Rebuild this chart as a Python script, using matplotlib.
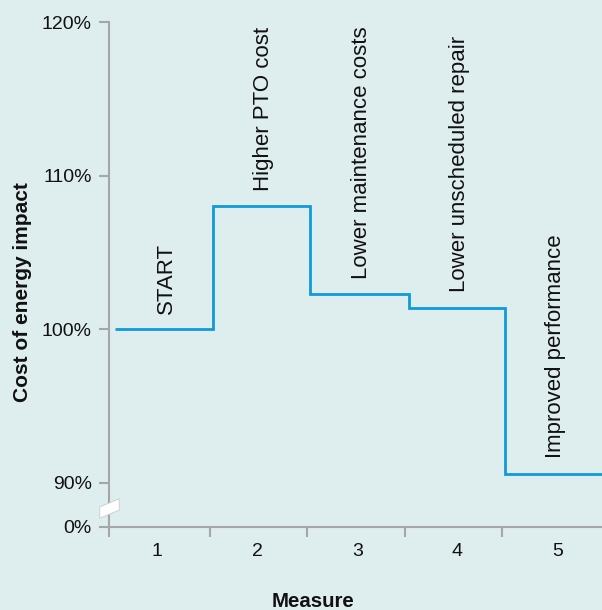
import matplotlib
matplotlib.use("Agg")
import matplotlib.pyplot as plt
from matplotlib.path import Path
import numpy as np

plt.rcParams['font.family'] = ['Liberation Sans', 'DejaVu Sans']

# data
measures = [1, 2, 3, 4, 5]
step_labels = ["START", "Higher PTO cost", "Lower maintenance costs",
               "Lower unscheduled repair", "Improved performance"]
impact = [100.0, 108.0, 102.3, 101.4, 90.6]          # cost of energy impact, %
step_edges = [0.58, 1.565, 2.53, 3.515, 4.475, 5.44]  # where each step begins/ends
y_ticks = [0, 90, 100, 110, 120]

bg = '#deeded'
blue = '#0f9ad8'
grey = '#a3a7a7'

# broken y axis: 0..90 squeezed into a short stub under 90
BREAK_LO = 87.14
def fwd(y):
    y = np.asarray(y, dtype=float)
    return np.where(y >= 90, y, BREAK_LO + y * (90 - BREAK_LO) / 90)

def inv(y):
    y = np.asarray(y, dtype=float)
    return np.where(y >= 90, y, (y - BREAK_LO) * 90 / (90 - BREAK_LO))

fig = plt.figure(figsize=(6.02, 6.10), dpi=100, facecolor=bg)
ax = fig.add_axes([0.1806, 0.1366, 0.8194, 0.8273], facecolor=bg)

ax.set_yscale('function', functions=(fwd, inv))
ax.set_ylim(0, 120)
ax.set_xlim(0.521, 5.442)

ax.stairs(impact, step_edges, color=blue, linewidth=2.0, baseline=None)

# step annotations, rotated, centred on each step
for i, lab in enumerate(step_labels):
    xc = (step_edges[i] + step_edges[i + 1]) / 2
    ax.annotate(lab, (xc, impact[i]), xytext=(1.5, 11), textcoords='offset points',
                rotation=90, ha='center', va='bottom', fontsize=16, color='#111111')

# axes styling
for s in ['top', 'right']:
    ax.spines[s].set_visible(False)
for s in ['left', 'bottom']:
    ax.spines[s].set_color(grey)
    ax.spines[s].set_linewidth(1.5)

ax.set_yticks(y_ticks)
ax.set_yticklabels([f"{v}%" for v in y_ticks])
ax.tick_params(axis='y', length=7.2, width=1.5, color=grey, pad=5, labelsize=14,
               labelcolor='#111111')

ax.set_xticks(measures)
ax.set_xticklabels([str(m) for m in measures])
ax.set_xticks([0.521] + [e - 0.035 for e in step_edges[1:5]], minor=True)
ax.tick_params(axis='x', which='major', length=0, pad=12, labelsize=14, labelcolor='#111111')
ax.tick_params(axis='x', which='minor', length=7.2, width=1.5, color=grey)

# axis break mark
brk = Path([(-6, -6), (6, -1), (6, 6), (-6, 1), (-6, -6)],
           [Path.MOVETO, Path.LINETO, Path.LINETO, Path.LINETO, Path.CLOSEPOLY])
ax.plot([0.521], [38], marker=brk, markersize=14, markerfacecolor='white',
        markeredgecolor='#c8cccc', markeredgewidth=0.6, clip_on=False, zorder=5)

fig.text(23 / 602, 1 - 292.5 / 610, "Cost of energy impact", rotation=90,
         ha='center', va='center', fontsize=15, fontweight='bold', color='#111111')
fig.text(313 / 602, 1 - 607 / 610, "Measure", ha='center', va='baseline',
         fontsize=14.7, fontweight='bold', color='#111111')

fig.savefig("out.png", dpi=100, facecolor=bg)
